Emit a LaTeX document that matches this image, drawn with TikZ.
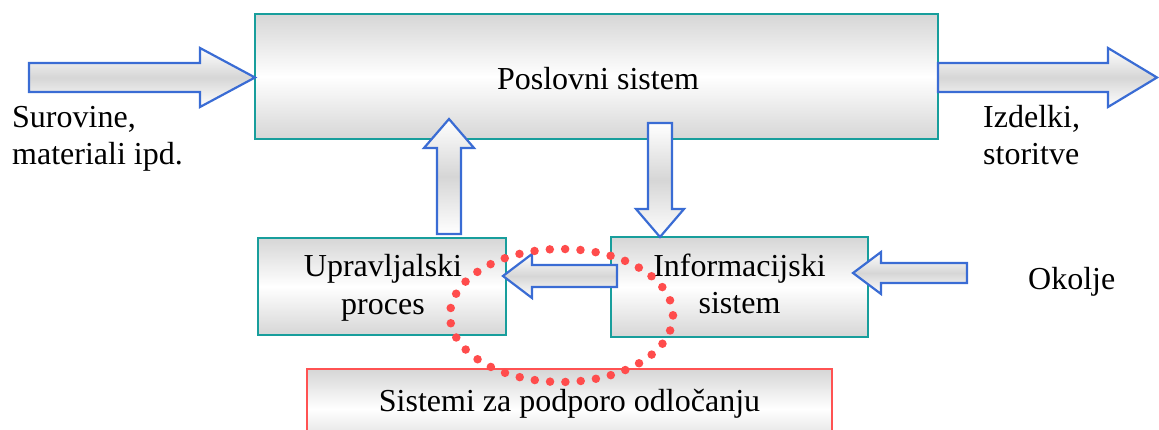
\documentclass[tikz,border=0pt]{standalone}
\usepackage{fontspec}
\setmainfont{Liberation Serif}
\definecolor{boxline}{RGB}{24,158,156}
\definecolor{arrline}{RGB}{58,108,212}
\definecolor{redline}{RGB}{255,82,82}
\definecolor{dotred}{RGB}{255,76,76}
\definecolor{shgray}{RGB}{214,214,214}
\tikzset{
  box/.style={draw=boxline, line width=2.2pt, rectangle, inner sep=0pt,
    top color=shgray, bottom color=shgray, middle color=white},
  redbox/.style={draw=redline, line width=2.2pt, rectangle, inner sep=0pt,
    top color=shgray, bottom color=shgray, middle color=white},
  blockarrow/.style={draw=arrline, line width=2.2pt, line join=miter,
    top color=white, bottom color=white, middle color=shgray},
  txt/.style={inner sep=0pt, font=\fontsize{32}{37}\selectfont},
  dotring/.style={draw=dotred, line width=8.5pt, line cap=round,
    dash pattern=on 0pt off 15.35pt}
}
\begin{document}
\begin{tikzpicture}[x=1pt,y=-1pt]
\useasboundingbox (0,0) rectangle (1159,430);
\clip (0,0) rectangle (1159,430);
% boxes
\node[box, minimum width=683, minimum height=125] (pos) at (596.5,76.5) {};
\node[box, minimum width=248, minimum height=97] (upr) at (382,286.5) {};
\node[box, minimum width=257, minimum height=100] (inf) at (739.5,287) {};
% block arrows
\draw[blockarrow] (29,63) -- (200,63) -- (200,48) -- (255,77.5) -- (200,107) -- (200,92) -- (29,92) -- cycle;
\draw[blockarrow] (938,63) -- (1108,63) -- (1108,48) -- (1157,77.5) -- (1108,107) -- (1108,92) -- (938,92) -- cycle;
\draw[blockarrow] (437,234) -- (437,148) -- (424,148) -- (449,119) -- (474,148) -- (461,148) -- (461,234) -- cycle;
\draw[blockarrow] (648,123) -- (672,123) -- (672,209) -- (684,209) -- (660,237) -- (636,209) -- (648,209) -- cycle;
\draw[blockarrow] (617,265) -- (532,265) -- (532,254) -- (503,276) -- (532,298) -- (532,287) -- (617,287) -- cycle;
\draw[blockarrow] (967,263) -- (881,263) -- (881,252) -- (853,273) -- (881,294) -- (881,283) -- (967,283) -- cycle;
% bottom box
\node[redbox, minimum width=525, minimum height=80] (dss) at (569.5,409) {};
% texts
\node[txt, anchor=base] (post) at (598,90) {Poslovni sistem};
\node[txt, anchor=base west] (sur1) at (12,128) {Surovine,};
\node[txt, anchor=base west] (sur2) at (12,165) {materiali ipd.};
\node[txt, anchor=base west] (izd1) at (983,128) {Izdelki,};
\node[txt, anchor=base west] (izd2) at (983,165) {storitve};
\node[txt, anchor=base] (uprt1) at (383,277) {Upravljalski};
\node[txt, anchor=base] (uprt2) at (383,314) {proces};
\node[txt, anchor=base] (inft1) at (739.5,277) {Informacijski};
\node[txt, anchor=base] (inft2) at (739.5,313) {sistem};
\node[txt, anchor=base west] (oko) at (1028,290) {Okolje};
\node[txt, anchor=base] (dsst) at (569.5,411) {Sistemi za podporo odločanju};
% dotted ring
\draw[dotring] (561.5,315.5) ellipse [x radius=111.5, y radius=66.5];
\end{tikzpicture}
\end{document}
